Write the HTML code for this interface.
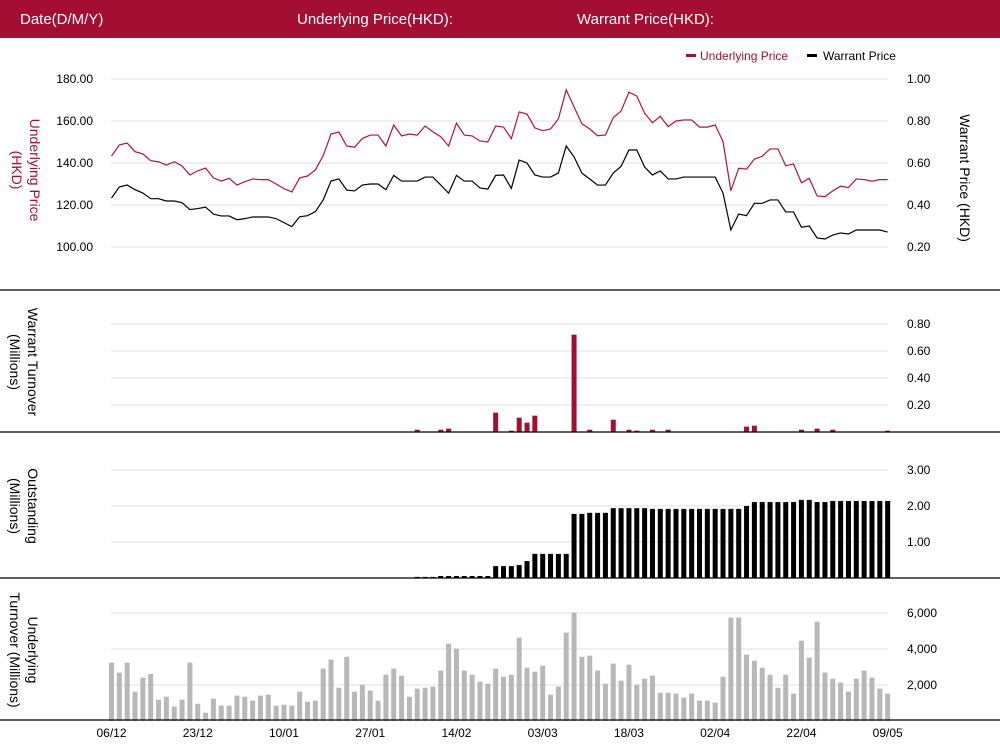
<!DOCTYPE html>
<html><head><meta charset="utf-8"><style>
body{margin:0;background:#fff;font-family:"Liberation Sans",sans-serif}
svg{display:block}
text{font-family:"Liberation Sans",sans-serif}
</style></head><body>
<svg id="c" width="1000" height="751" viewBox="0 0 1000 751">
<rect x="0" y="0" width="1000" height="38" fill="#a50e33"/>
<text x="20" y="24" fill="#fff" font-size="15">Date(D/M/Y)</text>
<text x="297" y="24" fill="#fff" font-size="15">Underlying Price(HKD):</text>
<text x="577" y="24" fill="#fff" font-size="15">Warrant Price(HKD):</text>
<g>
<rect x="686" y="54" width="10" height="3" fill="#a50e33"/>
<text x="700" y="60" font-size="12" fill="#a50e33">Underlying Price</text>
<rect x="807" y="54" width="10" height="3" fill="#000"/>
<text x="823" y="60" font-size="12" fill="#000">Warrant  Price</text>
</g>
<g id="grid"></g><g id="marks"></g><g id="labels"></g>
<text transform="translate(30,170) rotate(90)" text-anchor="middle" font-size="14" fill="#a50e33"><tspan x="0" dy="0">Underlying Price</tspan><tspan x="0" dy="18">(HKD)</tspan></text>
<text transform="translate(960,178) rotate(90)" text-anchor="middle" font-size="14" fill="#000">Warrant  Price (HKD)</text>
<text transform="translate(28,362) rotate(90)" text-anchor="middle" font-size="14" fill="#000"><tspan x="0" dy="0">Warrant  Turnover</tspan><tspan x="0" dy="18">(Millions)</tspan></text>
<text transform="translate(28,506) rotate(90)" text-anchor="middle" font-size="14" fill="#000"><tspan x="0" dy="0">Outstanding</tspan><tspan x="0" dy="18">(Millions)</tspan></text>
<text transform="translate(28,650) rotate(90)" text-anchor="middle" font-size="14" fill="#000"><tspan x="0" dy="0">Underlying</tspan><tspan x="0" dy="18">Turnover (Millions)</tspan></text>
</svg>
<script>
const xLabels=["06/12","23/12","10/01","27/01","14/02","03/03","18/03","02/04","22/04","09/05"];
const underlyingPrice=[143.3,148.6,149.5,145.4,144.3,141.1,140.6,139.0,140.6,138.6,134.3,136.3,137.6,132.9,131.4,132.7,129.5,131.1,132.4,132.1,132.1,130.0,127.8,126.2,132.9,133.8,136.7,143.5,153.8,154.8,148.1,147.5,151.7,153.3,153.3,148.1,158.1,152.9,153.8,153.3,157.6,154.9,152.5,148.1,159.0,153.3,152.9,150.5,150.0,157.6,157.1,151.6,164.3,163.3,156.7,155.4,156.2,161.0,174.8,166.7,158.7,156.2,153.0,153.3,161.6,164.8,173.7,171.9,163.7,159.2,162.2,157.3,160.0,160.5,160.5,157.1,157.1,158.1,150.3,126.8,137.5,137.1,141.9,143.2,146.7,146.7,138.7,139.5,130.6,132.7,124.3,124.0,126.7,129.0,128.3,132.4,132.1,131.3,132.1,132.1];
const warrantPrice=[0.433,0.486,0.495,0.473,0.457,0.430,0.430,0.419,0.419,0.411,0.378,0.383,0.390,0.357,0.348,0.348,0.330,0.335,0.343,0.343,0.343,0.335,0.316,0.297,0.344,0.349,0.368,0.424,0.514,0.524,0.471,0.467,0.495,0.500,0.500,0.473,0.541,0.514,0.514,0.514,0.533,0.533,0.495,0.456,0.541,0.514,0.514,0.481,0.476,0.541,0.543,0.479,0.614,0.600,0.543,0.533,0.533,0.552,0.681,0.629,0.552,0.524,0.495,0.495,0.552,0.584,0.662,0.662,0.581,0.543,0.562,0.524,0.524,0.533,0.533,0.533,0.533,0.533,0.457,0.281,0.357,0.349,0.408,0.408,0.424,0.424,0.367,0.367,0.294,0.300,0.243,0.238,0.257,0.267,0.262,0.281,0.281,0.281,0.281,0.271];
const warrantTurnoverIdx=[39,42,43,49,51,52,53,54,59,61,64,66,67,69,71,81,82,88,90,92,99];
const warrantTurnoverVal=[0.017,0.017,0.025,0.143,0.01,0.106,0.069,0.121,0.721,0.017,0.091,0.017,0.01,0.017,0.017,0.04,0.047,0.017,0.025,0.017,0.01];
const outstanding=[];
for(let i=0;i<100;i++)outstanding.push(0);
const outstandingVals=[0.03,0.03,0.03,0.056,0.056,0.056,0.056,0.056,0.056,0.056,0.33,0.33,0.33,0.36,0.47,0.67,0.67,0.67,0.67,0.67,1.78,1.78,1.81,1.81,1.81,1.94,1.94,1.94,1.94,1.94,1.92,1.92,1.92,1.92,1.92,1.92,1.92,1.92,1.92,1.92,1.92,1.92,2.00,2.11,2.11,2.11,2.11,2.11,2.11,2.17,2.17,2.11,2.11,2.14,2.14,2.14,2.14,2.14,2.14,2.14,2.14];
outstandingVals.forEach((v,k)=>outstanding[39+k]=v);
const underlyingTurnover=[3240,2690,3240,1630,2410,2610,1190,1350,800,1190,3240,960,460,1240,850,850,1410,1350,1130,1410,1460,850,900,850,1630,1070,1130,2910,3410,1850,3570,1630,2020,1690,1130,2570,2910,2520,1350,1800,1850,1910,2800,4300,4020,2800,2570,2190,2070,2910,2460,2570,4630,2960,2740,3070,1460,1910,4910,6020,3570,3630,2800,2070,3190,2240,3130,2020,2350,2520,1570,1570,1520,1300,1520,1130,1130,1020,2460,5740,5740,3690,3350,2960,2570,1850,2570,1520,4460,3520,5520,2690,2350,2130,1630,2350,2800,2410,1800,1520];
const leftTicks=["100.00","120.00","140.00","160.00","180.00"];
const leftTickVals=[100,120,140,160,180];
const rightTicks=["0.20","0.40","0.60","0.80","1.00"];
const rightTickVals=[0.2,0.4,0.6,0.8,1.0];
const wtTicks=["0.20","0.40","0.60","0.80"];
const wtTickVals=[0.2,0.4,0.6,0.8];
const osTicks=["1.00","2.00","3.00"];
const osTickVals=[1,2,3];
const utTicks=["2,000","4,000","6,000"];
const utTickVals=[2000,4000,6000];

const NS="http://www.w3.org/2000/svg";
const G=document.getElementById('grid'),M=document.getElementById('marks'),L=document.getElementById('labels');
function mk(tag,attrs,parent){const e=document.createElementNS(NS,tag);for(const k in attrs)e.setAttribute(k,attrs[k]);parent.appendChild(e);return e;}
const X=i=>111.5+i*7.84;
const yL=v=>247-(v-100)*42/20;
const yR=v=>247-(v-0.2)*42/0.2;
const yWT=v=>432-v*27/0.2;
const yOS=v=>578-v*36;
const yUT=v=>721-v*36/2000;
const GX1=111,GX2=888;
function grid(y,name){const l=mk('line',{x1:GX1,x2:GX2,y1:y,y2:y,stroke:'#e0e0e0','stroke-width':1},G);

}
function lab(x,y,t,anchor,name){const e=mk('text',{x:x,y:y,'font-size':12,fill:'#000','text-anchor':anchor},L);e.textContent=t;

}
leftTickVals.forEach((v,k)=>{grid(yL(v),'price-gridline');lab(93,yL(v)+4,leftTicks[k],'end','left-tick-label');});
rightTickVals.forEach((v,k)=>{lab(907,yR(v)+4,rightTicks[k],'start','right-tick-label');});
wtTickVals.forEach((v,k)=>{grid(yWT(v),'warrant-turnover-gridline');lab(907,yWT(v)+4,wtTicks[k],'start','warrant-turnover-tick-label');});
osTickVals.forEach((v,k)=>{grid(yOS(v),'outstanding-gridline');lab(907,yOS(v)+4,osTicks[k],'start','outstanding-tick-label');});
utTickVals.forEach((v,k)=>{grid(yUT(v),'underlying-turnover-gridline');lab(907,yUT(v)+4,utTicks[k],'start','underlying-turnover-tick-label');});
xLabels.forEach((t,k)=>{lab(X(k*11),737,t,'middle','x-tick-label');});
[290,432,578,720].forEach(y=>{const l=mk('line',{x1:0,x2:1000,y1:y,y2:y,stroke:'#000','stroke-width':1.3},L);

});
const p1=mk('polyline',{points:underlyingPrice.map((v,i)=>X(i)+','+yL(v)).join(' '),fill:'none',stroke:'#b5123f','stroke-width':1.2},M);


const p2=mk('polyline',{points:warrantPrice.map((v,i)=>X(i)+','+yR(v)).join(' '),fill:'none',stroke:'#000','stroke-width':1.2},M);


warrantTurnoverIdx.forEach((i,k)=>{const v=warrantTurnoverVal[k];const b=mk('rect',{x:X(i)-2.5,y:yWT(v),width:5,height:432-yWT(v),fill:'#a50e33'},M);

});
outstanding.forEach((v,i)=>{if(v<=0)return;const b=mk('rect',{x:X(i)-2.5,y:yOS(v),width:5,height:578-yOS(v),fill:'#000'},M);

});
underlyingTurnover.forEach((v,i)=>{const b=mk('rect',{x:X(i)-2.5,y:yUT(v),width:5,height:721-yUT(v),fill:'#b8b8b8'},M);

});
</script>
</body></html>
